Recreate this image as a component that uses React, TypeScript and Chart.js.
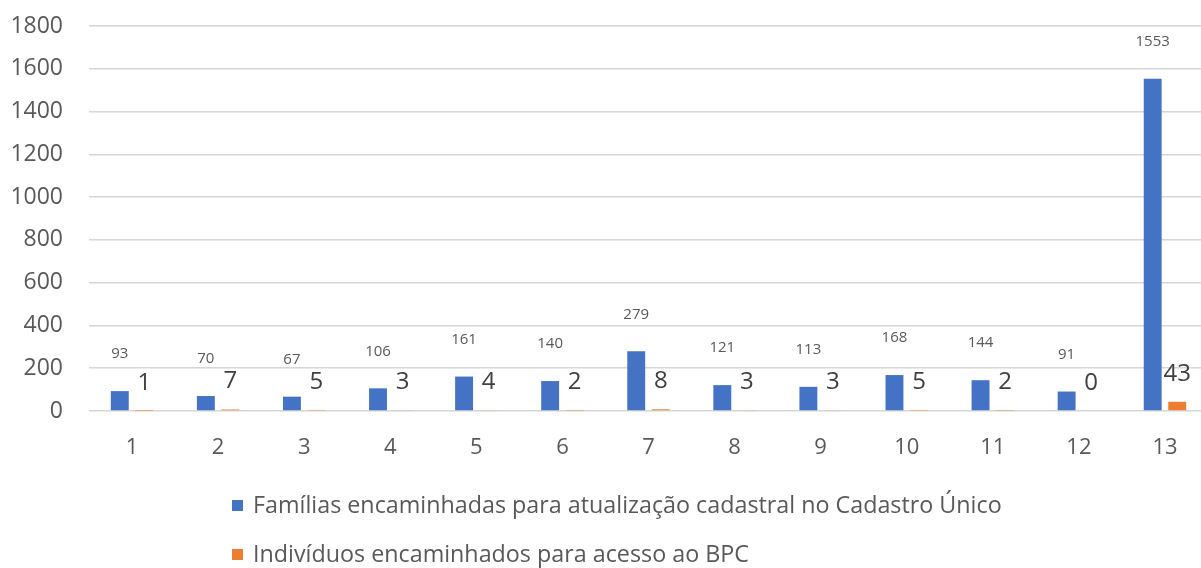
import React, { useEffect, useRef } from "react";
import { Chart, registerables } from "chart.js";

Chart.register(...registerables);

const categories = ["1", "2", "3", "4", "5", "6", "7", "8", "9", "10", "11", "12", "13"];
const familias = [93, 70, 67, 106, 161, 140, 279, 121, 113, 168, 144, 91, 1553];
const individuos = [1, 7, 5, 3, 4, 2, 8, 3, 3, 5, 2, 0, 43];
const seriesLabels = [
  "Famílias encaminhadas para atualização cadastral no Cadastro Único",
  "Indivíduos encaminhados para acesso ao BPC",
];
const seriesColors = ["#4472C4", "#ED7D31"];

const FONT = "'Open Sans', 'Noto Sans', sans-serif";

const labelPlugin = {
  id: "valueLabels",
  afterDatasetsDraw(chart: any) {
    const ctx = chart.ctx;
    ctx.save();
    ctx.textAlign = "center";
    ctx.textBaseline = "middle";
    chart.data.datasets.forEach((ds: any, di: number) => {
      const meta = chart.getDatasetMeta(di);
      meta.data.forEach((el: any, i: number) => {
        const v = ds.data[i];
        if (di === 0) {
          ctx.font = `15px ${FONT}`;
          ctx.fillStyle = "#595959";
          ctx.fillText(String(v), el.x, el.y - 37);
        } else {
          ctx.font = `24px ${FONT}`;
          ctx.fillStyle = "#404040";
          ctx.fillText(String(v), el.x, el.y - 28);
        }
      });
    });
    ctx.restore();
  },
};

const legendPlugin = {
  id: "customLegend",
  afterDraw(chart: any) {
    const ctx = chart.ctx;
    ctx.save();
    ctx.textBaseline = "middle";
    ctx.textAlign = "left";
    ctx.font = `23.3px ${FONT}`;
    const rows = [506, 555];
    seriesLabels.forEach((lbl, i) => {
      const y = rows[i];
      ctx.fillStyle = seriesColors[i];
      ctx.fillRect(232, y - 6, 11, 11);
      ctx.fillStyle = "#595959";
      ctx.fillText(lbl, 253, y);
    });
    ctx.restore();
  },
};

export default function App() {
  const ref = useRef<HTMLCanvasElement>(null);
  useEffect(() => {
    document.body.style.margin = "0";
    document.body.style.overflow = "hidden";
    const chart = new Chart(ref.current as HTMLCanvasElement, {
      type: "bar",
      data: {
        labels: categories,
        datasets: [
          {
            label: seriesLabels[0],
            data: familias,
            backgroundColor: seriesColors[0],
            categoryPercentage: 0.57,
            barPercentage: 0.73,
          },
          {
            label: seriesLabels[1],
            data: individuos,
            backgroundColor: seriesColors[1],
            categoryPercentage: 0.57,
            barPercentage: 0.73,
          },
        ],
      },
      options: {
        responsive: false,
        animation: false,
        layout: { padding: { top: 26, right: 2, left: 0, bottom: 0 } },
        plugins: {
          legend: { display: false },
          tooltip: { enabled: false },
        },
        scales: {
          x: {
            grid: { display: false, drawTicks: false },
            border: { display: false },
            ticks: {
              color: "#595959",
              font: { family: FONT, size: 22 },
              padding: 24,
            },
            afterFit: (s: any) => {
              s.height = 157;
            },
          },
          y: {
            min: 0,
            max: 1800,
            ticks: {
              stepSize: 200,
              color: "#595959",
              font: { family: FONT, size: 23 },
              padding: 26,
              callback: (v: any) => String(v),
            },
            grid: { color: "#d6d6d6", lineWidth: 1.5, drawTicks: false },
            border: { display: false },
            afterFit: (s: any) => {
              s.width = 89;
              s.paddingTop = 14;
              s.paddingBottom = 14;
            },
          },
        },
      },
      plugins: [labelPlugin, legendPlugin],
    });
    return () => chart.destroy();
  }, []);
  return (
    <div style={{ width: 1201, height: 568, overflow: "hidden", position: "relative", background: "#fff" }}>
      <canvas ref={ref} width={1210} height={568} style={{ display: "block" }} />
    </div>
  );
}
